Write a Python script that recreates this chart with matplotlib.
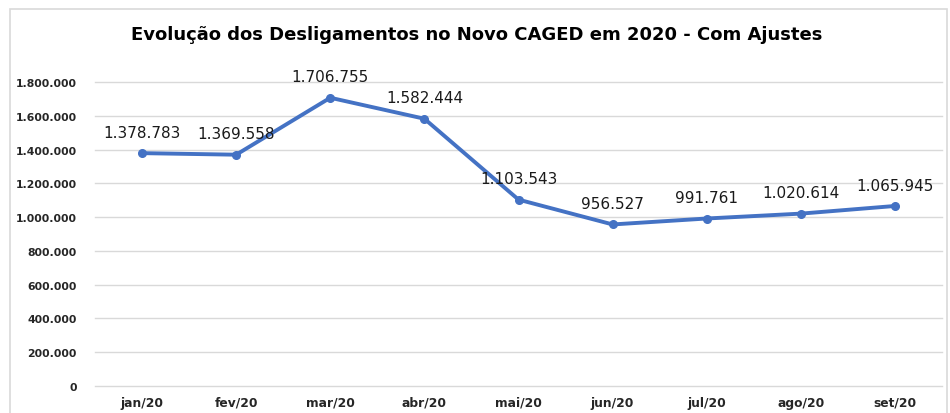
import matplotlib.pyplot as plt
from matplotlib.patches import Rectangle
from matplotlib.ticker import FuncFormatter

# dados (desligamentos por mês, Novo CAGED 2020 - com ajustes)
meses = ["jan/20", "fev/20", "mar/20", "abr/20", "mai/20",
         "jun/20", "jul/20", "ago/20", "set/20"]
desligamentos = [1378783, 1369558, 1706755, 1582444, 1103543,
                 956527, 991761, 1020614, 1065945]
y_ticks = [0, 200000, 400000, 600000, 800000,
           1000000, 1200000, 1400000, 1600000, 1800000]


def fmt_br(v, pos=None):
    # separador de milhar com ponto
    return f"{int(v):,}".replace(",", ".")


plt.rcParams['font.family'] = ['DejaVu Sans']

fig = plt.figure(figsize=(9.5, 4.14), dpi=100)
ax = fig.add_axes([95 / 950, 1 - 387 / 414, (942 - 95) / 950, (387 - 83) / 414])

# moldura do gráfico (estilo Excel)
fig.patches.append(Rectangle((10 / 950, -0.05), 937 / 950, 1 - 10 / 414 + 0.05,
                             transform=fig.transFigure, fill=False,
                             edgecolor="#d9d9d9", linewidth=1.2))

x = list(range(len(meses)))
ax.plot(x, desligamentos, color="#4472C4", linewidth=2.8,
        marker="o", markersize=5.5, zorder=3)

for xi, v in zip(x, desligamentos):
    ax.annotate(fmt_br(v), (xi, v), xytext=(0, 15), textcoords="offset points",
                ha="center", va="center", fontsize=11, color="#1a1a1a")

ax.set_xlim(-0.5, len(meses) - 0.5)
ax.set_ylim(0, 1800000)
ax.set_yticks(y_ticks)
ax.yaxis.set_major_formatter(FuncFormatter(fmt_br))
ax.set_xticks(x)
ax.set_xticklabels(meses)

ax.tick_params(axis="y", length=0, pad=13, labelsize=7.8, labelcolor="#262626")
ax.tick_params(axis="x", length=0, pad=7, labelsize=8.8, labelcolor="#262626")
for lbl in ax.get_xticklabels() + ax.get_yticklabels():
    lbl.set_fontweight("bold")

ax.grid(axis="y", color="#d9d9d9", linewidth=1)
for gl in ax.get_ygridlines():
    gl.set_clip_on(False)
ax.set_axisbelow(True)
for s in ax.spines.values():
    s.set_visible(False)

fig.text(477 / 950, 1 - 35 / 414,
         "Evolução dos Desligamentos no Novo CAGED em 2020 - Com Ajustes",
         ha="center", va="center", fontsize=13, fontweight="bold", color="#000000")

fig.savefig("out.png", dpi=100, facecolor="white")
